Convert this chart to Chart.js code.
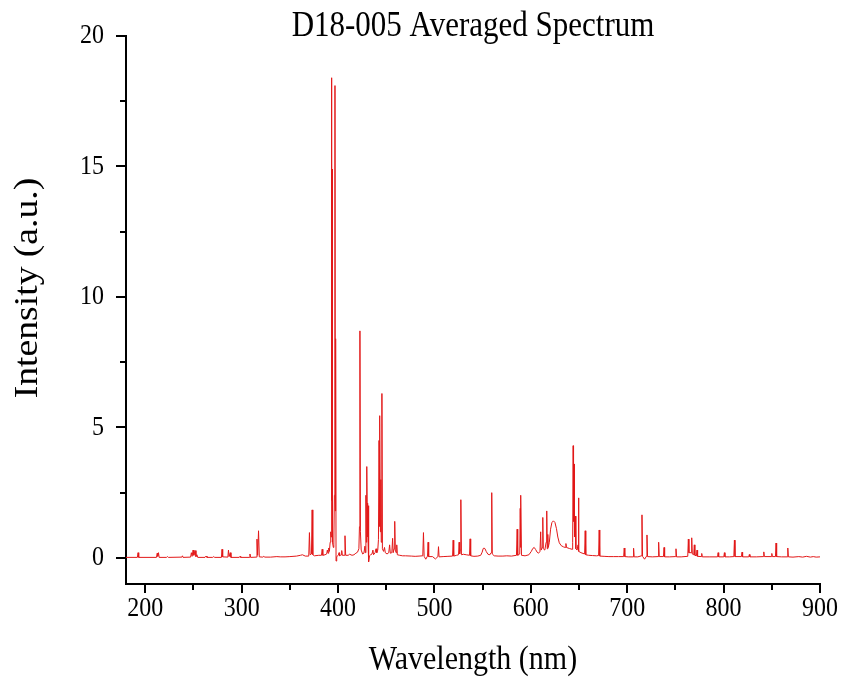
<!DOCTYPE html>
<html>
<head>
<meta charset="utf-8">
<script src="https://cdn.jsdelivr.net/npm/chart.js@4.4.1/dist/chart.umd.min.js"></script>
<style>
  html, body { margin: 0; padding: 0; background: #fff; }
  #wrap { width: 843px; height: 679px; }
</style>
</head>
<body>
<div id="wrap"><canvas id="spectrum-chart" width="843" height="679"></canvas></div>
<script>
const xTicks = [200, 300, 400, 500, 600, 700, 800, 900];
const xMinorTicks = [250, 350, 450, 550, 650, 750, 850];
const yTicks = [0, 5, 10, 15, 20];
const yMinorTicks = [2.5, 7.5, 12.5, 17.5];

// wavelength (nm), intensity (a.u.)
const spectrumUV = [
    [180,0.02],[191.8,0.02],[192.5,0.2],[193.2,0.02],[211.6,0.02],[212.4,0.18],[212.9,0.06],[213.7,0.2],[214.4,0.02],
    [222,0.02],[223,0.05],[224,0.02],[238,0.03],[238.6,0.08],[239.2,0.02],[247,0.03],[247.8,0.2],[248.6,0.06],
    [249.6,0.3],[250.4,0.1],[251.7,0.28],[252.6,0.05],[253.6,0.12],[254.4,0.02],[262,0.02],[263,0.07],[264,0.02],
    [270,0.02],[271,0.05],[272,0.02],[279,0.02],[279.6,0.33],[280.3,0.04],[285.7,0.03],[286.3,0.3],[287,0.05],
    [288.2,0.2],[288.9,0.02],[297.5,0.02],[298.3,0.06],[299,0.02],[308,0.02],[308.6,0.15],[309.3,0.02],
    [315.2,0.03],[315.9,0.72],[316.6,0.1],[317.5,1.04],[318.3,0.04],[322,0.03],[323,0.06],[324,0.03],[330,0.03],
    [336.5,0.05],[340,0.04],[345,0.04],[350,0.05],[357,0.07],[361,0.1],[363,0.12],[366,0.07],[369.6,0.07],
    [370.3,0.97],[371,0.12],[372.4,0.15],[373.1,1.84],[373.8,0.12],[375.5,0.08],[380,0.1],[382.8,0.1],
    [383.5,0.33],[384.2,0.1],[386.5,0.12],[388.2,0.15],[388.9,0.3],[389.6,0.18],[390.3,0.38],[391,0.25]
];
const spectrumCa = [
    [391.8,0.6],[392.4,1.0],[392.8,0.8],[393.2,18.4],[393.5,2.2],[393.8,14.9],[394.2,0.6],[395.1,0.4],[395.6,0.5],
    [396.2,2.4],[396.8,18.1],[397.1,1.8],[397.5,8.4],[397.9,-0.12],[398.6,0.05],[400.3,0.1],[401,0.2],[401.6,0.08],
    [403.2,0.12],[403.8,0.28],[404.4,0.1],[406.4,0.1],[407.2,0.85],[407.9,0.1],[410.5,0.1],[412,0.14],[414.5,0.1],
    [416.5,0.12],[418.5,0.18],[420.2,0.22],[421.6,0.35],[422.2,1.2],[422.7,8.7],[423.2,1.0],[424,0.3],[425.5,0.15],
    [426.8,0.18],[427.9,0.45],[428.4,0.2],[428.9,2.4],[429.3,0.6],[429.8,3.5],[430.2,2.0],[430.5,0.8],[430.9,2.1],
    [431.2,0.5],[431.5,2.0],[431.9,-0.15],[432.6,0.08],[433.8,0.12],[435.2,0.15],[436.2,0.3],[436.8,0.12],
    [438.4,0.2],[439.4,0.35],[440.2,0.2],[441.2,0.3],[441.9,0.7],[442.5,4.5],[442.9,1.2],[443.5,5.45],[443.9,1.0],
    [444.4,3.0],[444.8,0.6],[445.5,6.3],[446,0.35],[447.2,0.25],[448.2,0.4],[449,0.2],[450.8,0.15],[452.6,0.2],
    [453.5,0.5],[454.2,0.18],[455.8,0.2],[456.6,0.75],[457.2,0.2],[458.2,0.35],[458.8,1.4],[459.4,0.3],[460.2,0.2],
    [460.9,0.5],[461.5,0.12],[464,0.1],[467,0.08],[470,0.08]
];
const spectrumVis = [
    [476,0.07],[480,0.06],[484,0.07],[487.9,0.08],[488.6,0.97],[489.3,0.06],[491,-0.05],[492.8,0.07],[493.4,0.6],
    [494,0.05],[498,0.05],[501,-0.04],[503.6,0.05],[504.2,0.43],[504.8,0.04],[509,0.05],[514,0.06],[518.8,0.07],
    [519.4,0.68],[520,0.07],[523,0.1],[525,0.12],[525.6,0.6],[526.2,0.15],[526.8,0.3],[527.4,2.23],[528,0.12],
    [530,0.14],[533,0.12],[536.4,0.1],[537,0.73],[537.6,0.08],[541,0.06],[545,0.07],[548,0.1],[549.5,0.22],
    [550.6,0.36],[551.6,0.38],[552.6,0.34],[553.8,0.24],[555.5,0.14],[557.5,0.12],[558.8,0.2],[559.3,1.5],
    [559.6,2.5],[560,0.15],[562,0.08],[566,0.07],[571,0.07],[575,0.08],[580,0.07],[585.1,0.1],[585.8,1.1],
    [586.4,0.1],[588.5,0.15],[589.0,1.9],[589.3,0.4],[589.7,2.4],[590.3,0.1],[594,0.08],[598,0.12],[600.5,0.25],
    [602,0.36],[603.5,0.4],[605,0.32],[606.5,0.22],[608,0.18],[609.5,0.25],[610.2,1.0],[610.7,0.3],[611.9,0.4],
    [612.4,1.55],[612.9,0.35],[614.5,0.3],[615.9,0.6],[616.5,1.8],[617,0.35],[617.6,0.9],[618.1,0.4],[619.2,0.6],
    [620.5,1.1],[621.8,1.35],[623.4,1.42],[625,1.36],[626.6,1.12],[628,0.8],[629.5,0.58],[631.5,0.47],[634,0.42],
    [635.8,0.4],[636.4,0.55],[637,0.4],[640,0.36],[642.8,0.33],[643.4,0.6],[643.9,4.3],[644.3,1.4],[644.8,3.6],
    [645.3,0.8],[646.2,1.6],[646.7,0.35],[648,0.3],[649,0.5],[649.4,2.3],[649.9,0.25],[652,0.2],[655.8,0.15],
    [656.4,1.04],[657,0.12],[660,0.1],[664,0.09],[668,0.08],[670.3,0.09],[670.9,1.07],[671.5,0.07],[676,0.06],
    [681,0.05],[686,0.05],[691,0.05],[696.3,0.05],[696.9,0.38],[697.5,0.05]
];
const spectrumNIR = [
    [701,0.04],[706,0.04],[706.6,0.37],[707.2,0.04],[711,0.04],[714.7,0.08],[715.3,1.65],[715.9,0.06],[718,-0.05],
    [719.9,0.06],[720.5,0.88],[721.1,0.05],[726,0.04],[732,0.05],[732.6,0.6],[733.2,0.05],[737.6,0.05],[738.2,0.4],
    [738.8,0.04],[744,0.04],[750,0.05],[750.6,0.35],[751.2,0.04],[756,0.04],[762.8,0.06],[763.4,0.72],[764,0.2],
    [766.3,0.2],[766.9,0.77],[767.5,0.15],[769,0.12],[769.6,0.5],[770.2,0.1],[771.8,0.08],[772.4,0.3],[773,0.06],
    [776.7,0.05],[777.3,0.17],[777.9,0.04],[785,0.04],[793.7,0.04],[794.3,0.2],[794.9,0.04],[800.2,0.04],
    [800.8,0.2],[801.4,0.04],[806,0.04],[810.6,0.05],[811.2,0.68],[811.8,0.05],[818.5,0.05],[819.1,0.22],
    [819.7,0.04],[826.1,0.04],[826.7,0.13],[827.3,0.04],[834,0.04],[841.1,0.05],[841.7,0.23],[842.3,0.05],
    [849.4,0.05],[850,0.17],[850.6,0.05],[853.8,0.05],[854.4,0.57],[855,0.05],[860,0.04],[866,0.04],[866.6,0.38],
    [867.2,0.04],[872,0.03],[878,0.05],[882,0.03],[886,0.06],[890,0.03],[893,0.05],[896,0.03],[900,0.04]
];

const spectrum = spectrumUV.concat(spectrumCa, spectrumVis, spectrumNIR);

const serif = '"Liberation Serif", "Times New Roman", serif';

// text in the original is a little taller than wide
function stretchedText(ctx, text, x, y, size, sy, rotate, align) {
    ctx.save();
    ctx.translate(x, y);
    if (rotate) {
        ctx.rotate(-Math.PI / 2);
        ctx.scale(sy, 1);
    } else {
        ctx.scale(1, sy);
    }
    ctx.font = size + 'px ' + serif;
    ctx.fillStyle = '#000';
    ctx.textAlign = align || 'center';
    ctx.textBaseline = 'middle';
    ctx.fillText(text, 0, 0);
    ctx.restore();
}

const extrasPlugin = {
    id: 'extras',
    afterDraw(chart) {
        const ctx = chart.ctx;
        const area = chart.chartArea;
        const xs = chart.scales.x;
        const ys = chart.scales.y;
        ctx.save();
        ctx.strokeStyle = '#000';
        ctx.lineWidth = 2;
        ctx.beginPath();
        xMinorTicks.forEach(v => {
            const px = Math.round(xs.getPixelForValue(v));
            ctx.moveTo(px, area.bottom);
            ctx.lineTo(px, area.bottom + 6);
        });
        yMinorTicks.forEach(v => {
            const py = Math.round(ys.getPixelForValue(v));
            ctx.moveTo(area.left, py);
            ctx.lineTo(area.left - 6, py);
        });
        ctx.stroke();
        ctx.restore();

        xTicks.forEach(v => {
            stretchedText(ctx, String(v), xs.getPixelForValue(v), area.bottom + 25, 24, 1.15, false);
        });
        yTicks.forEach(v => {
            stretchedText(ctx, String(v), area.left - 22, ys.getPixelForValue(v), 24, 1.15, false, 'right');
        });

        const mid = (area.left + area.right) / 2;
        stretchedText(ctx, 'D18-005 Averaged Spectrum', mid, 27, 31, 1.15, false);
        stretchedText(ctx, 'Wavelength (nm)', mid, 660, 30, 1.15, false);
        stretchedText(ctx, 'Intensity (a.u.)', 28, 288, 33, 1.14, true);
    }
};

const ctx = document.getElementById('spectrum-chart').getContext('2d');
new Chart(ctx, {
    type: 'line',
    data: {
        datasets: [{
            data: spectrum,
            borderColor: 'rgb(226,24,24)',
            borderWidth: 1,
            pointRadius: 0,
            tension: 0,
            fill: false
        }]
    },
    options: {
        responsive: false,
        animation: false,
        layout: { padding: { top: 36, right: 23, left: 0, bottom: 0 } },
        plugins: {
            legend: { display: false },
            tooltip: { enabled: false },
            title: { display: false }
        },
        scales: {
            x: {
                type: 'linear',
                min: 180,
                max: 900,
                afterBuildTicks: scale => { scale.ticks = xTicks.map(v => ({ value: v })); },
                afterFit: scale => { scale.height = 95; },
                border: { display: true, color: '#000', width: 2 },
                grid: { drawOnChartArea: false, drawTicks: true, tickLength: 9, color: '#000', lineWidth: 2 },
                ticks: { display: false }
            },
            y: {
                type: 'linear',
                min: -1,
                max: 20,
                afterBuildTicks: scale => { scale.ticks = yTicks.map(v => ({ value: v })); },
                afterFit: scale => { scale.width = 126; },
                border: { display: true, color: '#000', width: 2 },
                grid: { drawOnChartArea: false, drawTicks: true, tickLength: 10, color: '#000', lineWidth: 2 },
                ticks: { display: false }
            }
        }
    },
    plugins: [extrasPlugin]
});
</script>
</body>
</html>
